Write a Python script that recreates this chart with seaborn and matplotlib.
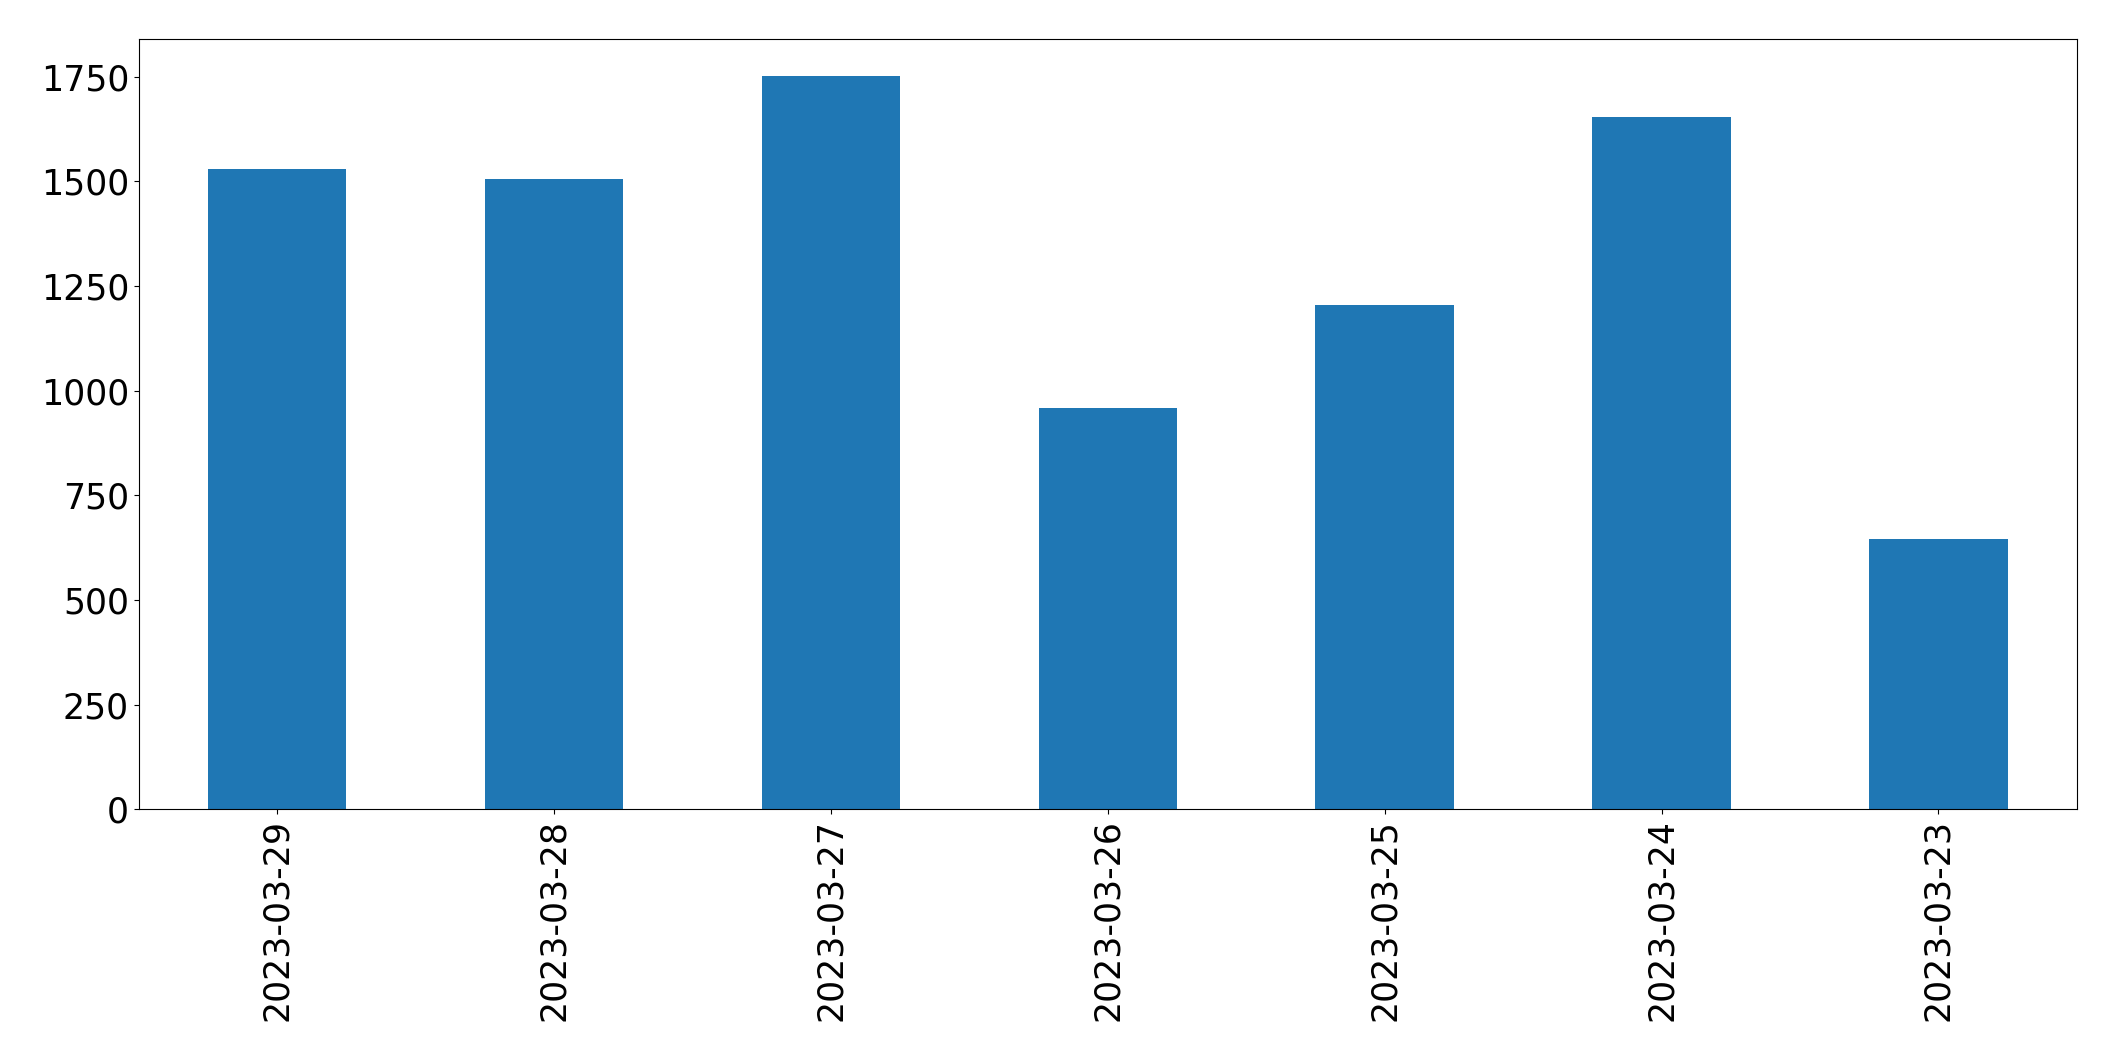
import pandas as pd
import matplotlib
matplotlib.use('Agg')
import matplotlib.pyplot as plt
import seaborn as sns

# Values
dates = ['2023-03-29', '2023-03-28', '2023-03-27', '2023-03-26',
         '2023-03-25', '2023-03-24', '2023-03-23']
counts = [1529, 1505, 1752, 958, 1204, 1653, 645]

df = pd.DataFrame({'date': dates, 'count': counts})

fig, ax = plt.subplots(figsize=(21.15, 10.61), dpi=100)
sns.barplot(x='date', y='count', data=df, order=dates, color='#1f77b4',
            saturation=1, width=0.5, ax=ax)
ax.set_xlim(-0.5, len(dates) - 0.5)
ax.set_ylim(0, max(counts) * 1.05)
ax.set_xlabel('')
ax.set_ylabel('')
ax.tick_params(axis='both', labelsize=25)
plt.xticks(rotation=90)
plt.subplots_adjust(left=0.0656, right=0.982, top=0.963, bottom=0.2372)
plt.savefig('out.png', dpi=100)
